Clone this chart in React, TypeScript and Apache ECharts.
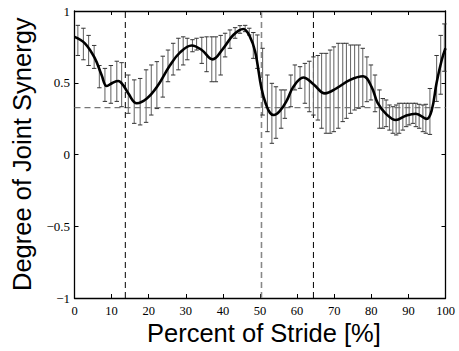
import React, { useEffect, useRef } from "react";
import * as echarts from "echarts";

// Smoothed mean synergy over the stride (percent of stride, value)
const meanX = [0, 2.8, 5.5, 7.3, 8.7, 10.3, 11.8, 13.2, 14.5, 16.8, 19.5, 22.2, 25.7, 28.4, 31.6, 34.3, 37.2, 40.1, 42.8, 45.5, 47.3, 48.7, 50.4, 51.6, 52.7, 53.7, 55.4, 57.2, 59, 61.7, 64.4, 67.5, 70.7, 74.3, 77.8, 80.1, 81.7, 84.1, 86.6, 89.3, 92, 94.9, 96.3, 97.6, 99, 100];
const meanY = [0.82, 0.775, 0.67, 0.554, 0.477, 0.5, 0.512, 0.48, 0.426, 0.357, 0.39, 0.47, 0.62, 0.71, 0.76, 0.728, 0.663, 0.74, 0.833, 0.875, 0.82, 0.716, 0.46, 0.35, 0.29, 0.275, 0.305, 0.375, 0.472, 0.537, 0.49, 0.426, 0.463, 0.52, 0.545, 0.47, 0.36, 0.28, 0.24, 0.27, 0.284, 0.248, 0.31, 0.5, 0.66, 0.74];

// Error bars: position, upper and lower limits
const errX = [0.9, 2.4, 3.8, 5.3, 6.7, 8.2, 9.8, 11.4, 12.7, 14.5, 16.1, 17.7, 19.3, 20.7, 22.2, 23.8, 25.2, 26.6, 28.0, 29.3, 30.4, 31.8, 32.9, 34.3, 35.6, 37.0, 38.1, 39.4, 40.6, 41.9, 43.3, 44.6, 46.0, 47.1, 48.2, 49.3, 50.7, 52.0, 53.2, 54.3, 55.7, 56.7, 58.3, 59.4, 60.8, 62.1, 63.3, 64.4, 65.6, 66.6, 67.8, 68.9, 69.9, 71.1, 72.3, 73.3, 74.4, 75.5, 76.6, 77.7, 78.8, 79.9, 81.0, 82.2, 83.1, 84.0, 84.9, 85.8, 86.7, 87.5, 88.5, 89.4, 90.2, 91.2, 92.0, 92.9, 93.9, 94.7, 95.8, 97.6, 98.7, 99.7];
const errHigh = [0.9, 0.88, 0.83, 0.76, 0.62, 0.6, 0.62, 0.65, 0.64, 0.554, 0.52, 0.53, 0.59, 0.624, 0.647, 0.685, 0.728, 0.775, 0.81, 0.82, 0.81, 0.8, 0.81, 0.817, 0.82, 0.82, 0.82, 0.83, 0.845, 0.868, 0.884, 0.898, 0.9, 0.88, 0.85, 0.833, 0.74, 0.554, 0.496, 0.472, 0.45, 0.45, 0.554, 0.624, 0.612, 0.635, 0.65, 0.68, 0.69, 0.705, 0.705, 0.728, 0.75, 0.775, 0.775, 0.775, 0.763, 0.763, 0.763, 0.74, 0.68, 0.624, 0.554, 0.45, 0.39, 0.38, 0.345, 0.333, 0.345, 0.357, 0.357, 0.357, 0.357, 0.357, 0.357, 0.35, 0.345, 0.35, 0.46, 0.69, 0.83, 0.91];
const errLow = [0.69, 0.66, 0.62, 0.6, 0.465, 0.37, 0.357, 0.37, 0.333, 0.287, 0.217, 0.206, 0.224, 0.275, 0.32, 0.4, 0.507, 0.554, 0.59, 0.624, 0.66, 0.716, 0.728, 0.635, 0.577, 0.507, 0.507, 0.554, 0.68, 0.74, 0.81, 0.845, 0.856, 0.833, 0.67, 0.6, 0.275, 0.159, 0.078, 0.113, 0.183, 0.252, 0.333, 0.45, 0.461, 0.357, 0.298, 0.275, 0.24, 0.183, 0.148, 0.148, 0.159, 0.183, 0.229, 0.252, 0.287, 0.31, 0.322, 0.333, 0.368, 0.38, 0.298, 0.183, 0.183, 0.194, 0.17, 0.148, 0.136, 0.148, 0.17, 0.194, 0.206, 0.217, 0.194, 0.183, 0.159, 0.148, 0.14, 0.37, 0.42, 0.58];

// Gait event markers and reference level
const eventBlack = [13.7, 64.4];
const eventGray = 50.4;
const refLevel = 0.326;

const xTicks = ["0", "10", "20", "30", "40", "50", "60", "70", "80", "90", "100"];
const yTicks = ["\u22121", "\u22120.5", "0", "0.5", "1"];

const serif = "Liberation Serif";
const sans = "Liberation Sans";

export default function App() {
  const ref = useRef<HTMLDivElement>(null);

  useEffect(() => {
    if (!ref.current) return;
    const chart = echarts.init(ref.current, undefined, { renderer: "svg" });

    const errData = errX.map((x, i) => [x, errLow[i], errHigh[i]]);
    const meanData = meanX.map((x, i) => [x, meanY[i]]);

    const vLine = (x: number) => [[x, -1], [x, 1]];

    const baseX = {
      type: "value" as const,
      min: 0,
      max: 100,
      interval: 10,
      splitLine: { show: false },
      axisLine: { show: true, onZero: false, lineStyle: { color: "#000", width: 1.3 } },
      axisTick: { show: true, inside: true, length: 4, lineStyle: { color: "#000" } },
    };
    const baseY = {
      type: "value" as const,
      min: -1,
      max: 1,
      interval: 0.5,
      splitLine: { show: false },
      axisLine: { show: true, onZero: false, lineStyle: { color: "#000", width: 1.3 } },
      axisTick: { show: true, inside: true, length: 4, lineStyle: { color: "#000" } },
    };

    chart.setOption({
      animation: false,
      backgroundColor: "#fff",
      grid: { left: 74.5, right: 13.5, top: 11, bottom: 53 },
      xAxis: [
        {
          ...baseX,
          position: "bottom",
          axisLabel: {
            color: "#000",
            fontFamily: serif,
            fontSize: 12.5,
            margin: 6.5,
            formatter: (v: number) => xTicks[Math.round(v / 10)] ?? "",
          },
        },
        { ...baseX, position: "top", axisLabel: { show: false } },
      ],
      yAxis: [
        {
          ...baseY,
          position: "left",
          axisLabel: {
            color: "#000",
            fontFamily: serif,
            fontSize: 13,
            margin: 4.5,
            formatter: (v: number) => yTicks[Math.round((v + 1) * 2)] ?? "",
          },
        },
        { ...baseY, position: "right", axisLabel: { show: false } },
      ],
      graphic: [
        {
          type: "text",
          x: 147,
          y: 320,
          style: { text: "Percent of Stride [%]", fontFamily: sans, fontSize: 25.5, fill: "#000" },
        },
        {
          type: "text",
          x: 9,
          y: 291,
          rotation: Math.PI / 2,
          style: { text: "Degree of Joint Synergy", fontFamily: sans, fontSize: 25.5, fill: "#000" },
        },
      ],
      series: [
        {
          type: "line",
          data: [[0, refLevel], [100, refLevel]],
          symbol: "none",
          silent: true,
          lineStyle: { color: "#777", width: 1.2, type: [6, 4] },
          z: 1,
        },
        ...eventBlack.map((x) => ({
          type: "line",
          data: vLine(x),
          symbol: "none",
          silent: true,
          lineStyle: { color: "#000", width: 1, type: [6, 4] },
          z: 1,
        })),
        {
          type: "line",
          data: vLine(eventGray),
          symbol: "none",
          silent: true,
          lineStyle: { color: "#888", width: 1.6, type: [6, 4] },
          z: 1,
        },
        {
          type: "custom",
          data: errData,
          z: 2,
          renderItem: (_params: any, api: any) => {
            const x = api.value(0);
            const top = api.coord([x, api.value(2)]);
            const bot = api.coord([x, api.value(1)]);
            const w = 2.2;
            return {
              type: "group",
              children: [
                {
                  type: "line",
                  shape: { x1: top[0], y1: top[1], x2: bot[0], y2: bot[1] },
                  style: { stroke: "#6e6e6e", lineWidth: 1.1 },
                },
                {
                  type: "line",
                  shape: { x1: top[0] - w, y1: top[1], x2: top[0] + w, y2: top[1] },
                  style: { stroke: "#333", lineWidth: 1 },
                },
                {
                  type: "line",
                  shape: { x1: bot[0] - w, y1: bot[1], x2: bot[0] + w, y2: bot[1] },
                  style: { stroke: "#333", lineWidth: 1 },
                },
              ],
            };
          },
        },
        {
          type: "line",
          data: meanData,
          symbol: "none",
          smooth: 0.4,
          silent: true,
          lineStyle: { color: "#000", width: 2.6 },
          z: 3,
        },
      ],
    });

    return () => chart.dispose();
  }, []);

  return <div ref={ref} style={{ width: 459, height: 351, position: "absolute", left: 0, top: 0 }} />;
}
